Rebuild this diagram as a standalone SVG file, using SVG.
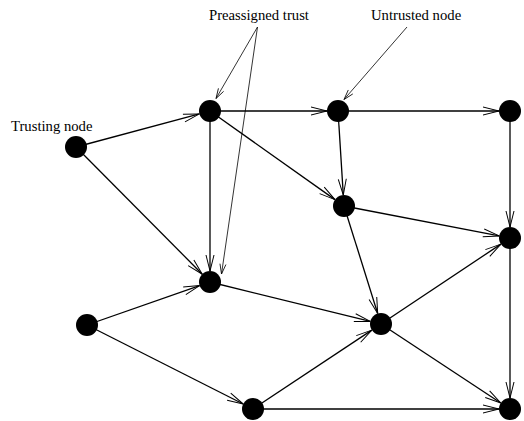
<svg xmlns="http://www.w3.org/2000/svg" width="524" height="421" viewBox="0 0 524 421">
<style>
.edge{stroke:#000;stroke-width:1.3;fill:none;marker-end:url(#arr)}
.note{stroke:#000;stroke-width:0.8;fill:none;marker-end:url(#arrs)}
.node{fill:#000}
text{font-family:"Liberation Serif","Times New Roman",serif;font-size:14.7px;fill:#000}
</style>
<defs>
<marker id="arr" markerUnits="userSpaceOnUse" markerWidth="18" markerHeight="10" refX="16" refY="4" orient="auto" overflow="visible">
<path d="M0,0 L16,4 L0,8" fill="none" stroke="#000" stroke-width="1"/>
</marker>
<marker id="arrs" markerUnits="userSpaceOnUse" markerWidth="12" markerHeight="8" refX="10" refY="3" orient="auto" overflow="visible">
<path d="M0,0 L10,3 L0,6" fill="none" stroke="#000" stroke-width="0.8"/>
</marker>
</defs>
<g id="connectors">
<line class="edge" x1="76" y1="147" x2="199.4" y2="113.9"/>
<line class="edge" x1="76" y1="147" x2="202.3" y2="274.2"/>
<line class="edge" x1="210" y1="111" x2="327" y2="111"/>
<line class="edge" x1="338" y1="111" x2="499" y2="111"/>
<line class="edge" x1="210" y1="111" x2="210" y2="271"/>
<line class="edge" x1="210" y1="111" x2="335" y2="199.6"/>
<line class="edge" x1="338" y1="111" x2="343.3" y2="195"/>
<line class="edge" x1="510" y1="111" x2="510" y2="227"/>
<line class="edge" x1="344" y1="206" x2="499.2" y2="235.9"/>
<line class="edge" x1="344" y1="206" x2="377.7" y2="313.5"/>
<line class="edge" x1="210" y1="282" x2="370.3" y2="321.4"/>
<line class="edge" x1="87" y1="325" x2="199.6" y2="285.6"/>
<line class="edge" x1="87" y1="325" x2="243.2" y2="404"/>
<line class="edge" x1="381" y1="324" x2="500.9" y2="244.1"/>
<line class="edge" x1="381" y1="324" x2="500.8" y2="403"/>
<line class="edge" x1="253" y1="409" x2="371.8" y2="330.1"/>
<line class="edge" x1="253" y1="409" x2="499" y2="409"/>
<line class="edge" x1="510" y1="238" x2="510" y2="398"/>
<line class="note" x1="257.5" y1="27" x2="216" y2="98.5"/>
<line class="note" x1="257.5" y1="27" x2="221.5" y2="274"/>
<line class="note" x1="407" y1="27" x2="344" y2="99.5"/>
</g>
<g id="label-trusting"><text x="11" y="131">Trusting node</text></g>
<g id="label-preassigned"><text x="209" y="20">Preassigned trust</text></g>
<g id="label-untrusted"><text x="371" y="20">Untrusted node</text></g>
<g id="n-trusting"><circle class="node" cx="76" cy="147" r="11"/></g>
<g id="n-a"><circle class="node" cx="210" cy="111" r="11"/></g>
<g id="n-b"><circle class="node" cx="338" cy="111" r="11"/></g>
<g id="n-c"><circle class="node" cx="510" cy="111" r="11"/></g>
<g id="n-d"><circle class="node" cx="344" cy="206" r="11"/></g>
<g id="n-e"><circle class="node" cx="510" cy="238" r="11"/></g>
<g id="n-f"><circle class="node" cx="210" cy="282" r="11"/></g>
<g id="n-g"><circle class="node" cx="87" cy="325" r="11"/></g>
<g id="n-h"><circle class="node" cx="381" cy="324" r="11"/></g>
<g id="n-i"><circle class="node" cx="253" cy="409" r="11"/></g>
<g id="n-j"><circle class="node" cx="510" cy="409" r="11"/></g>
</svg>
